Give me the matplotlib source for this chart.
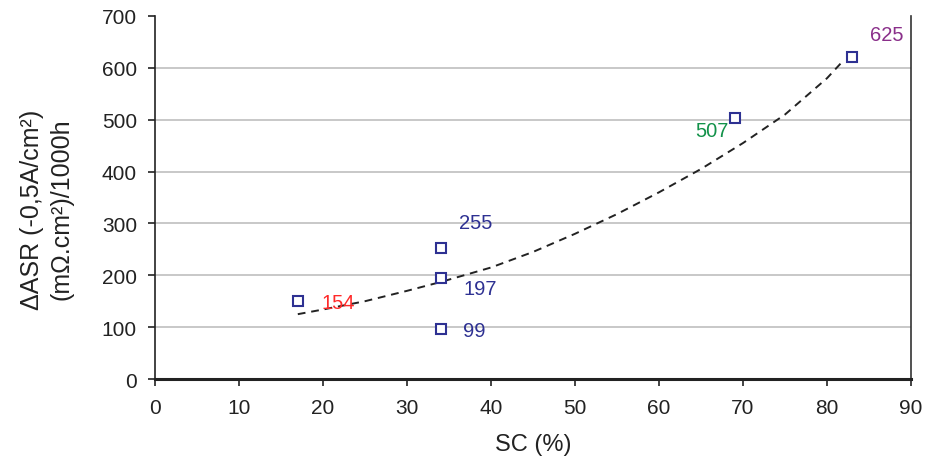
import matplotlib
matplotlib.use("Agg")
import matplotlib.pyplot as plt

plt.rcParams['font.family'] = ['Liberation Sans', 'DejaVu Sans']

sc = [17, 34, 34, 34, 69, 83]
dasr = [150, 252, 194, 96, 503, 620]

trend_x = [17, 20, 25, 30, 34, 40, 45, 50, 55, 60, 65, 70, 75, 80, 82]
trend_y = [125, 134, 150, 170, 187, 215, 245, 280, 318, 360, 405, 455, 510, 580, 615]

labels = ["154", "255", "197", "99", "507", "625"]
label_x = [21.8, 38.2, 38.7, 38.0, 66.3, 87.1]
label_y = [147, 301, 175, 94, 480, 665]
label_colors = ["#ff2a2a", "#2e3192", "#2e3192", "#2e3192", "#13924a", "#8a2f8a"]

xticks = list(range(0, 91, 10))
yticks = list(range(0, 701, 100))

fig = plt.figure(figsize=(9.25, 4.64), dpi=100)
ax = fig.add_axes([155/925, 1 - 380/464, (911-155)/925, (380-17)/464])

ax.plot(trend_x, trend_y, linestyle=(0, (4, 3)), color="#222222", linewidth=1.4, zorder=2)
ax.plot(sc, dasr, linestyle="none", marker="s", markersize=6.5,
        markerfacecolor="white", markeredgecolor="#2e3192", markeredgewidth=1.5, zorder=3)

for t, x, y, c in zip(labels, label_x, label_y, label_colors):
    ax.text(x, y, t, color=c, fontsize=14.5, ha="center", va="center", zorder=4)

ax.set_xlim(0, 90)
ax.set_ylim(0, 700)
ax.set_xticks(xticks)
ax.set_yticks(yticks)
ax.tick_params(axis="both", labelsize=15, direction="out", length=5, width=1.2, colors="#222222")
ax.tick_params(axis="x", pad=9)
ax.tick_params(axis="y", pad=8)

ax.yaxis.grid(True, color="#c4c4c4", linewidth=1.3)
ax.get_ygridlines()[-1].set_visible(False)
ax.get_ygridlines()[0].set_visible(False)
ax.set_axisbelow(True)

ax.spines["top"].set_visible(False)
ax.spines["left"].set_color("#222222")
ax.spines["left"].set_linewidth(1.2)
ax.spines["right"].set_color("#333333")
ax.spines["right"].set_linewidth(1.2)
ax.spines["bottom"].set_color("#222222")
ax.spines["bottom"].set_linewidth(2.2)

ax.set_xlabel("SC (%)", fontsize=17, labelpad=11, color="#222222")
ax.set_ylabel("ΔASR (-0,5A/cm²)\n(mΩ.cm²)/1000h", fontsize=18, labelpad=24,
              color="#222222", linespacing=1.3)
ax.yaxis.set_label_coords(-0.108, 0.47)

fig.savefig("out.png", dpi=100)
